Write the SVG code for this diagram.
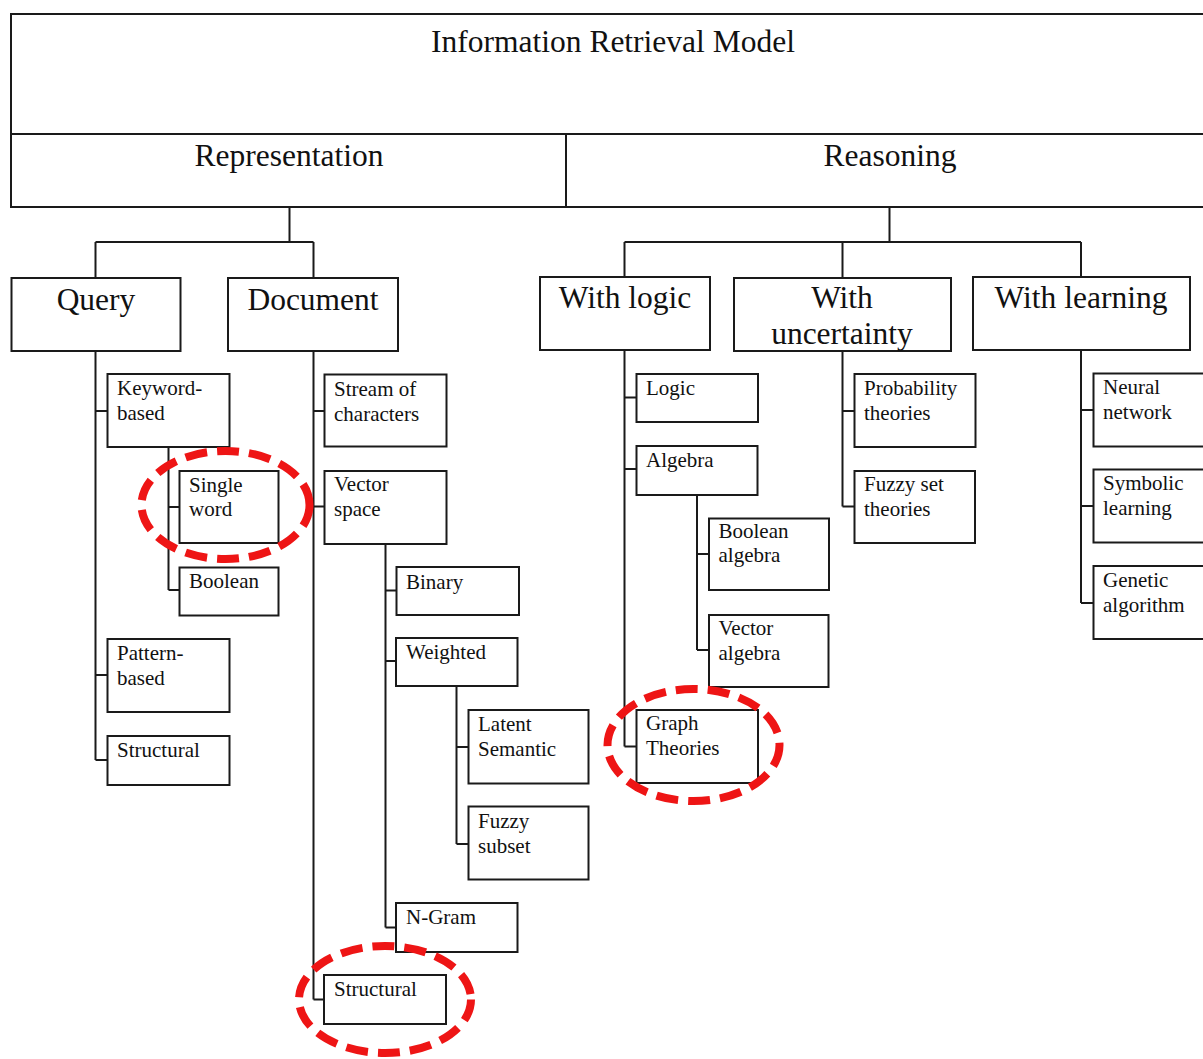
<svg xmlns="http://www.w3.org/2000/svg" width="1203" height="1059" viewBox="0 0 1203 1059">
  <style>
    .box { fill: #ffffff; stroke: #1a1a1a; stroke-width: 2; }
    .wire { fill: none; stroke: #1a1a1a; stroke-width: 2; }
    .hl { fill: none; stroke: #ee1515; stroke-width: 8; stroke-dasharray: 22 10; }
    text { font-family: "Liberation Serif", "Times New Roman", serif; fill: #111111; }
    .big { font-size: 31.5px; }
    .big.c { text-anchor: middle; }
    .sm { font-size: 21px; }
  </style>
  <rect x="0" y="0" width="1203" height="1059" fill="#ffffff"/>

  <!-- Header table -->
  <g id="header">
    <rect class="box" x="11" y="14" width="1203" height="193"/>
    <line class="wire" x1="11" y1="134" x2="1214" y2="134"/>
    <line class="wire" x1="566" y1="134" x2="566" y2="207"/>
    <text class="big c" x="613" y="52">Information Retrieval Model</text>
  </g>
  <g id="representation"><text class="big c" x="289" y="166">Representation</text></g>
  <g id="reasoning"><text class="big c" x="890" y="166">Reasoning</text></g>

  <!-- Connectors -->
  <g id="connectors">
    <path class="wire" d="M289.5 207 V242 M95.5 242 H313.5 M95.5 242 V278 M313.5 242 V278"/>
    <path class="wire" d="M889.5 207 V242 M624.5 242 H1081 M624.5 242 V277 M842.5 242 V278 M1081 242 V277"/>
    <!-- Query -->
    <path class="wire" d="M95.5 351 V760 M95.5 411 H107.5 M95.5 675 H107.5 M95.5 760 H107.5"/>
    <path class="wire" d="M168.5 447 V590 M168.5 507 H179.5 M168.5 590 H179.5"/>
    <!-- Document -->
    <path class="wire" d="M313.5 351 V999.5 M313.5 411 H324.5 M313.5 506.5 H324.5 M313.5 999.5 H324"/>
    <path class="wire" d="M385.5 544 V927.5 M385.5 590.5 H396.5 M385.5 661 H396 M385.5 927.5 H396"/>
    <path class="wire" d="M456.5 686 V844 M456.5 747 H468.5 M456.5 844 H468.5"/>
    <!-- With logic -->
    <path class="wire" d="M624.5 350 V746.5 M624.5 397.5 H636.5 M624.5 469 H636.5 M624.5 746.5 H636.5"/>
    <path class="wire" d="M697 495 V650 M697 554 H709 M697 650 H709"/>
    <!-- With uncertainty -->
    <path class="wire" d="M842.5 351 V506.5 M842.5 411 H854.5 M842.5 506.5 H854.5"/>
    <!-- With learning -->
    <path class="wire" d="M1081 350 V603 M1081 410 H1093.5 M1081 506 H1093.5 M1081 603 H1093.5"/>
  </g>

  <!-- Second level -->
  <g id="query"><rect class="box" x="11.5" y="278" width="169" height="73"/><text class="big c" x="96" y="310">Query</text></g>
  <g id="document"><rect class="box" x="228" y="278" width="170" height="73"/><text class="big c" x="313" y="310">Document</text></g>
  <g id="with-logic"><rect class="box" x="540" y="277" width="170" height="73"/><text class="big c" x="625" y="308">With logic</text></g>
  <g id="with-uncertainty"><rect class="box" x="734" y="278" width="217" height="73"/><text class="big c" x="842" y="308">With</text><text class="big c" x="842" y="344">uncertainty</text></g>
  <g id="with-learning"><rect class="box" x="973" y="277" width="217" height="73"/><text class="big c" x="1081" y="308">With learning</text></g>

  <!-- Query children -->
  <g id="keyword-based"><rect class="box" x="107.5" y="374" width="122" height="73"/><text class="sm" x="117" y="395">Keyword-</text><text class="sm" x="117" y="420">based</text></g>
  <g id="single-word"><rect class="box" x="179.5" y="471" width="99" height="72"/><text class="sm" x="189" y="492">Single</text><text class="sm" x="189" y="516">word</text></g>
  <g id="boolean"><rect class="box" x="179.5" y="567.5" width="99" height="48"/><text class="sm" x="189" y="588">Boolean</text></g>
  <g id="pattern-based"><rect class="box" x="107.5" y="639" width="122" height="73"/><text class="sm" x="117" y="660">Pattern-</text><text class="sm" x="117" y="685">based</text></g>
  <g id="query-structural"><rect class="box" x="107.5" y="736" width="122" height="49"/><text class="sm" x="117" y="757">Structural</text></g>

  <!-- Document children -->
  <g id="stream-of-characters"><rect class="box" x="324.5" y="374.5" width="122" height="72"/><text class="sm" x="334" y="396">Stream of</text><text class="sm" x="334" y="421">characters</text></g>
  <g id="vector-space"><rect class="box" x="324.5" y="471" width="122" height="73"/><text class="sm" x="334" y="491">Vector</text><text class="sm" x="334" y="516">space</text></g>
  <g id="binary"><rect class="box" x="396.5" y="567" width="122.5" height="48"/><text class="sm" x="406" y="588.5">Binary</text></g>
  <g id="weighted"><rect class="box" x="396" y="638" width="121.5" height="48"/><text class="sm" x="406" y="659">Weighted</text></g>
  <g id="latent-semantic"><rect class="box" x="468.5" y="710" width="120" height="73.5"/><text class="sm" x="478" y="731">Latent</text><text class="sm" x="478" y="756">Semantic</text></g>
  <g id="fuzzy-subset"><rect class="box" x="468.5" y="806.5" width="120" height="73"/><text class="sm" x="478" y="828">Fuzzy</text><text class="sm" x="478" y="853">subset</text></g>
  <g id="n-gram"><rect class="box" x="396" y="903" width="121.5" height="49"/><text class="sm" x="406" y="924">N-Gram</text></g>
  <g id="document-structural"><rect class="box" x="324" y="975" width="122" height="49"/><text class="sm" x="334" y="996">Structural</text></g>

  <!-- With logic children -->
  <g id="logic"><rect class="box" x="636.5" y="374" width="121.5" height="48"/><text class="sm" x="646" y="394.5">Logic</text></g>
  <g id="algebra"><rect class="box" x="636.5" y="446" width="121" height="49"/><text class="sm" x="646" y="467">Algebra</text></g>
  <g id="boolean-algebra"><rect class="box" x="709" y="518.5" width="120" height="71.5"/><text class="sm" x="718.5" y="538">Boolean</text><text class="sm" x="718.5" y="562">algebra</text></g>
  <g id="vector-algebra"><rect class="box" x="709" y="615" width="119.5" height="72"/><text class="sm" x="718.5" y="635">Vector</text><text class="sm" x="718.5" y="660">algebra</text></g>
  <g id="graph-theories"><rect class="box" x="636.5" y="710" width="121.5" height="73"/><text class="sm" x="646" y="730">Graph</text><text class="sm" x="646" y="755">Theories</text></g>

  <!-- With uncertainty children -->
  <g id="probability-theories"><rect class="box" x="854.5" y="374" width="121" height="73"/><text class="sm" x="864" y="395">Probability</text><text class="sm" x="864" y="420">theories</text></g>
  <g id="fuzzy-set-theories"><rect class="box" x="854.5" y="471" width="120.5" height="72"/><text class="sm" x="864" y="491">Fuzzy set</text><text class="sm" x="864" y="516">theories</text></g>

  <!-- With learning children -->
  <g id="neural-network"><rect class="box" x="1093.5" y="373.5" width="121" height="73"/><text class="sm" x="1103" y="393.5">Neural</text><text class="sm" x="1103" y="418.5">network</text></g>
  <g id="symbolic-learning"><rect class="box" x="1093.5" y="469.5" width="121" height="73"/><text class="sm" x="1103" y="490">Symbolic</text><text class="sm" x="1103" y="515">learning</text></g>
  <g id="genetic-algorithm"><rect class="box" x="1093.5" y="566" width="121" height="73"/><text class="sm" x="1103" y="587">Genetic</text><text class="sm" x="1103" y="612">algorithm</text></g>

  <!-- Dashed highlight rings -->
  <g id="highlights">
    <ellipse class="hl" cx="225.5" cy="505" rx="84" ry="54"/>
    <ellipse class="hl" cx="693.5" cy="745" rx="86" ry="56"/>
    <ellipse class="hl" cx="385" cy="999.5" rx="86" ry="53.5"/>
  </g>
</svg>
